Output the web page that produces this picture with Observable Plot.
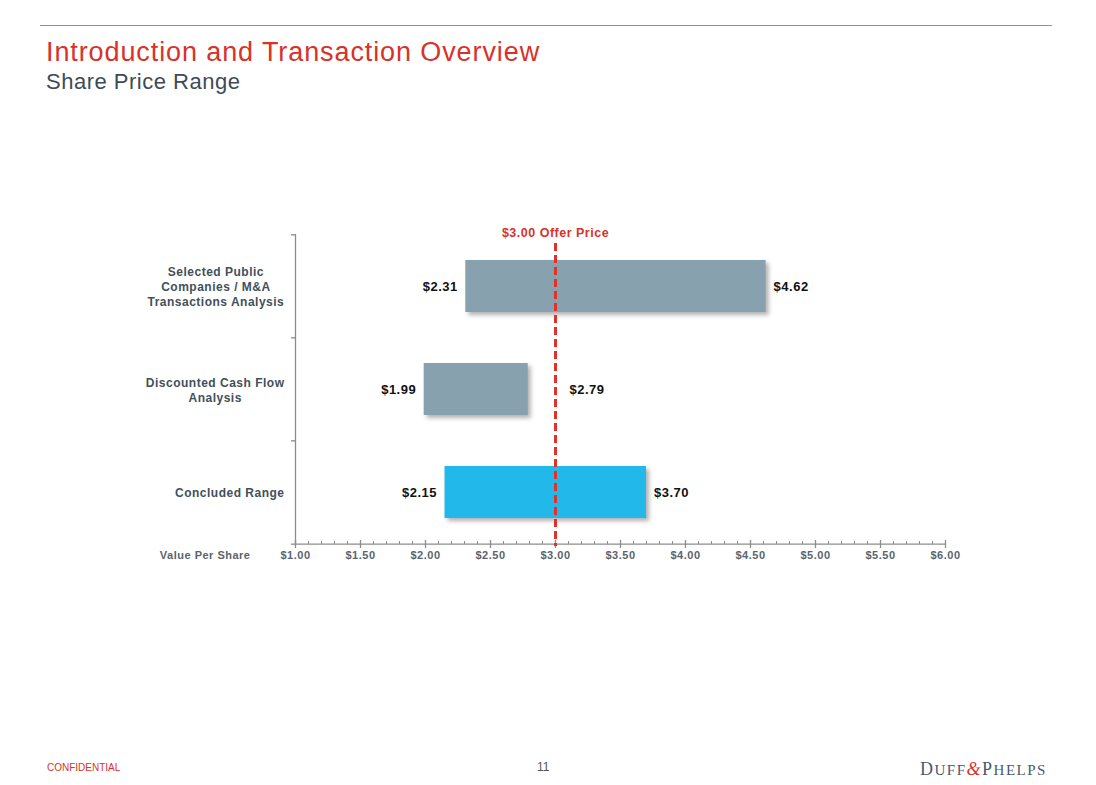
<!DOCTYPE html>
<html>
<head>
<meta charset="utf-8">
<script src="https://cdn.jsdelivr.net/npm/d3@7"></script>
<script src="https://cdn.jsdelivr.net/npm/@observablehq/plot@0.6"></script>
<style>
  html, body { margin: 0; padding: 0; background: #fff; }
  body { width: 1096px; height: 785px; position: relative; overflow: hidden; font-family: Arial, "Liberation Sans", sans-serif; }
  #topline { position: absolute; left: 40px; top: 25px; width: 1012px; height: 0; border-top: 1px solid #3fb0d0; }
  #title { position: absolute; left: 46px; top: 37px; font-size: 27px; letter-spacing: 0.9px; color: #d8322a; white-space: nowrap; }
  #subtitle { position: absolute; left: 46px; top: 69px; font-size: 22px; letter-spacing: 0.5px; color: #3e4b57; white-space: nowrap; }
  #chart { position: absolute; left: 0; top: 0; }
  #chart text { letter-spacing: 0.5px; }
  #confidential { position: absolute; left: 47px; top: 762px; font-size: 10px; color: #d8322a; }
  #page { position: absolute; left: 537px; top: 760px; font-size: 12px; color: #555; }
  #logo { position: absolute; left: 920px; top: 760px; line-height: 1; font-family: "Liberation Serif", "DejaVu Serif", serif; font-size: 18px; color: #4a5a6b; letter-spacing: 1.5px; white-space: nowrap; }
  #logo .sc { font-size: 15px; }
  #logo .amp { color: #d8322a; font-style: italic; }
  g[aria-label="bar"] { filter: drop-shadow(3px 3px 2px rgba(0,0,0,0.3)); }
</style>
</head>
<body>
<div id="topline"></div>
<div id="title">Introduction and Transaction Overview</div>
<div id="subtitle">Share Price Range</div>
<div id="chart"></div>
<div id="confidential">CONFIDENTIAL</div>
<div id="page">11</div>
<div id="logo">D<span class="sc">UFF</span><span class="amp">&amp;</span>P<span class="sc">HELPS</span></div>
<script>
// ---- data ----
const categories = [
  "Selected Public\nCompanies / M&A\nTransactions Analysis",
  "Discounted Cash Flow\nAnalysis",
  "Concluded Range"
];
const lows = [2.31, 1.99, 2.15];
const highs = [4.62, 2.79, 3.70];
const offerPrice = 3.00;
const xTicks = [1.00, 1.50, 2.00, 2.50, 3.00, 3.50, 4.00, 4.50, 5.00, 5.50, 6.00];
const xAxisTitle = "Value Per Share";
const offerLabel = "Offer Price";

const rows = categories.map((c, i) => ({category: c, low: lows[i], high: highs[i]}));
const fmt = v => "$" + v.toFixed(2);

// ---- layout ----
const W = 1096, H = 785;
const mTop = 234, mBottom = 241, mLeft = 295, mRight = 151;
const frameH = H - mTop - mBottom;
const step = frameH / categories.length;
const FONT = 'Arial, "Liberation Sans", sans-serif';
const grey = "#87a1ae", blue = "#22b9ea", red = "#e0312b", axisGrey = "#8c8c8c";

const minorTicks = d3.range(10, 61).map(v => v / 10);

// measure widths of category labels to center lines in a right-aligned block
const ctx = document.createElement("canvas").getContext("2d");
ctx.font = "bold 12px " + FONT;
try { ctx.letterSpacing = "0.5px"; } catch (e) {}
const labelMarks = categories.map(c => {
  const maxW = d3.max(c.split("\n"), l => ctx.measureText(l).width);
  return Plot.text([c], {
    y: d => d, text: d => d, frameAnchor: "left", textAnchor: "middle",
    dx: -11 - maxW / 2, lineHeight: 1.25, fontSize: 12, fontWeight: "bold", fill: "#434f5a"
  });
});

const chart = Plot.plot({
  width: W, height: H,
  marginTop: mTop, marginBottom: mBottom, marginLeft: mLeft, marginRight: mRight,
  style: {fontFamily: FONT, background: "transparent", overflow: "visible"},
  x: {domain: [1, 6], axis: null},
  y: {domain: categories, paddingInner: 0.5, paddingOuter: 0.25, axis: null},
  marks: [
    // bars
    Plot.barX(rows, {x1: "low", x2: "high", y: "category",
      fill: d => d.category === "Concluded Range" ? blue : grey}),
    // y axis line and boundary ticks
    Plot.ruleX([1], {stroke: axisGrey, strokeWidth: 1.3}),
    Plot.ruleY(categories, {y: d => d, x1: 1, x2: 1, insetLeft: -4, dy: -step / 2, stroke: axisGrey, strokeWidth: 1.3}),
    Plot.ruleY(categories.slice(-1), {y: d => d, x1: 1, x2: 1, insetLeft: -4, dy: step / 2, stroke: axisGrey, strokeWidth: 1.3}),
    // x axis line and ticks
    Plot.ruleY(categories.slice(-1), {y: d => d, x1: 1, x2: 6, dy: step / 2, stroke: axisGrey, strokeWidth: 1.3}),
    Plot.ruleX(minorTicks, {x: d => d, insetTop: frameH - 3, stroke: axisGrey, strokeWidth: 1}),
    Plot.ruleX(xTicks, {x: d => d, insetTop: frameH - 4, insetBottom: -4, stroke: axisGrey, strokeWidth: 1.3}),
    Plot.text(xTicks, {x: d => d, text: fmt, frameAnchor: "bottom", dy: 14,
      fontSize: 11, fontWeight: "bold", fill: "#5a646d"}),
    Plot.text([xAxisTitle], {text: d => d, frameAnchor: "bottom-left", dx: -45, dy: 14, textAnchor: "end",
      fontSize: 11, fontWeight: "bold", fill: "#5a646d"}),
    // offer price line
    Plot.ruleX([offerPrice], {x: d => d, stroke: red, strokeWidth: 3, strokeDasharray: "8,4", insetTop: 9, insetBottom: -2}),
    Plot.text([offerPrice], {x: d => d, text: d => `${fmt(d)} ${offerLabel}`, frameAnchor: "top",
      lineAnchor: "bottom", dy: 2, fontSize: 12.5, fontWeight: "bold", fill: "#d8322a"}),
    // value labels
    Plot.text(rows, {x: "low", y: "category", text: d => fmt(d.low), dx: -8, textAnchor: "end",
      fontSize: 13, fontWeight: "bold", fill: "#111"}),
    Plot.text(rows, {x: d => Math.max(d.high, offerPrice + 0.05), y: "category", text: d => fmt(d.high),
      dx: 7.5, textAnchor: "start", fontSize: 13, fontWeight: "bold", fill: "#111"}),
    // category labels
    ...labelMarks
  ]
});
document.getElementById("chart").appendChild(chart);
</script>
</body>
</html>
